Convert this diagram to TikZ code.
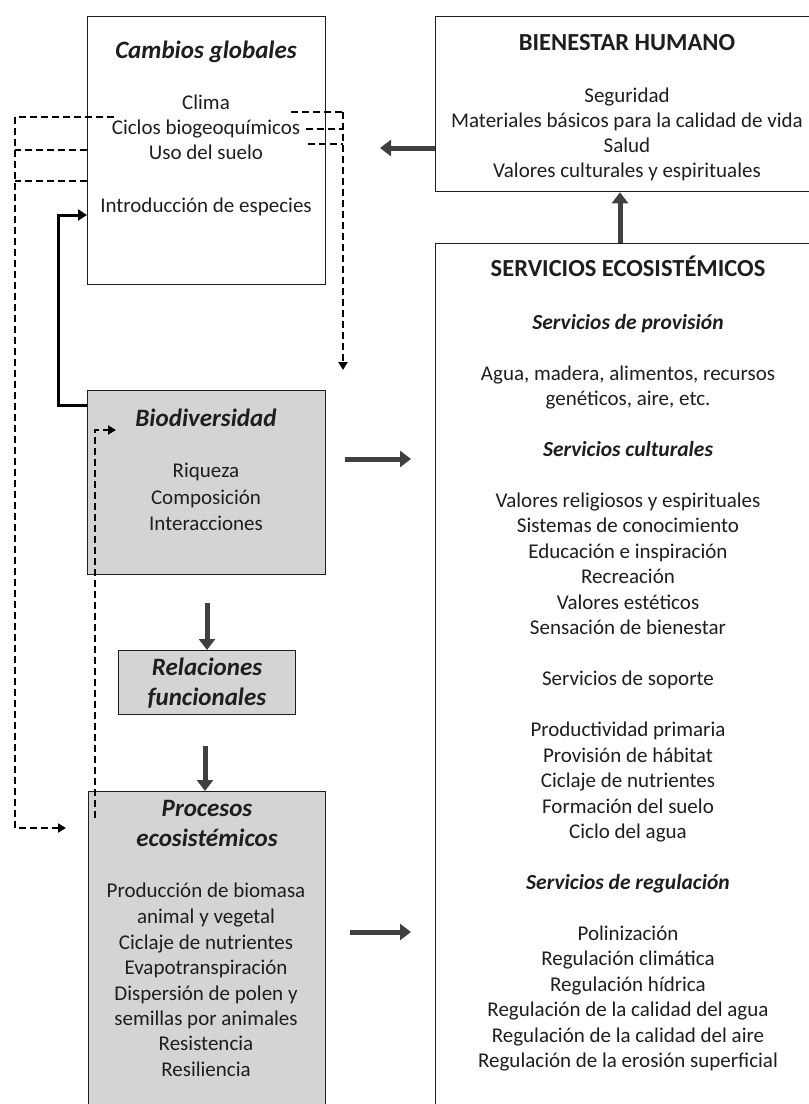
\documentclass[tikz,border=0pt]{standalone}
\usepackage{fontspec}
\setmainfont{Carlito}
\usetikzlibrary{arrows.meta}
\definecolor{txt}{HTML}{1E1E1E}
\definecolor{arr}{HTML}{404040}
\definecolor{fillg}{HTML}{D4D4D4}
\begin{document}
\begin{tikzpicture}[x=1pt,y=-1pt,
  box/.style={draw=txt,line width=1.3pt,anchor=north west,inner sep=0pt},
  gbox/.style={box,fill=fillg},
  ln/.style={anchor=base,inner sep=0pt,text=txt,font=\fontsize{21}{25}\selectfont},
  ttl/.style={anchor=base,inner sep=0pt,text=txt,font=\fontsize{25}{30}\selectfont\bfseries\itshape},
  sttl/.style={anchor=base,inner sep=0pt,text=txt,font=\fontsize{21.5}{25}\selectfont\bfseries\itshape},
  caps/.style={anchor=base,inner sep=0pt,text=txt,font=\fontsize{24.5}{28}\selectfont\bfseries},
  bigarrow/.style={draw=arr,line width=5pt,-{Triangle[length=11pt,width=16pt]}},
  dsh/.style={draw=black,line width=2pt,dash pattern=on 7pt off 4pt},
  dsharrow/.style={dsh,-{Triangle[length=8pt,width=9pt]}}
]
\useasboundingbox (0,0) rectangle (809,1104);
\fill[white] (0,0) rectangle (809,1104);
\clip (0,0) rectangle (809,1104);

% boxes
\node[box,minimum width=238pt,minimum height=268pt] (cg) at (87,16) {};
\node[box,minimum width=400pt,minimum height=175pt] (bh) at (435,16) {};
\node[box,minimum width=400pt,minimum height=900pt] (se) at (435,243) {};
\node[gbox,minimum width=238pt,minimum height=184pt] (bio) at (87,390) {};
\node[gbox,minimum width=177pt,minimum height=64pt] (rf) at (118,650) {};
\node[gbox,minimum width=237pt,minimum height=340pt] (pe) at (88,791) {};

% Cambios globales
\node[ttl] (cgt) at (206,58) {Cambios globales};
\foreach \t/\y [count=\i] in {Clima/102,Ciclos biogeoquímicos/127,Uso del suelo/152,Introducción de especies/205}
  \node[ln] (cg-\i) at (206,\y+7) {\t};

% Bienestar humano
\node[caps] (bht) at (627,50) {BIENESTAR HUMANO};
\foreach \t/\y [count=\i] in {Seguridad/95,Materiales básicos para la calidad de vida/120,Salud/145,Valores culturales y espirituales/170}
  \node[ln] (bh-\i) at (627,\y+7) {\t};

% Servicios ecosistemicos
\node[caps] (set) at (628,276) {SERVICIOS ECOSISTÉMICOS};
\foreach \t/\y [count=\i] in {{Agua, madera, alimentos, recursos}/373,{genéticos, aire, etc.}/398,
  Valores religiosos y espirituales/500,Sistemas de conocimiento/525,Educación e inspiración/551,Recreación/576,Valores estéticos/602,Sensación de bienestar/627,
  Servicios de soporte/678,
  Productividad primaria/729,Provisión de hábitat/755,Ciclaje de nutrientes/780,Formación del suelo/806,Ciclo del agua/831,
  Polinización/933,Regulación climática/958,Regulación hídrica/984,Regulación de la calidad del agua/1009,Regulación de la calidad del aire/1035,Regulación de la erosión superficial/1060}
  \node[ln] (se-\i) at (628,\y+7) {\t};
\foreach \t/\y [count=\i] in {Servicios de provisión/322,Servicios culturales/449,Servicios de regulación/882}
  \node[sttl] (ses-\i) at (628,\y+7) {\t};

% Biodiversidad
\node[ttl] (biot) at (206,426) {Biodiversidad};
\foreach \t/\y [count=\i] in {Riqueza/470,Composición/497,Interacciones/523}
  \node[ln] (bio-\i) at (206,\y+7) {\t};

% Relaciones funcionales
\node[ttl] (rft1) at (207,675) {Relaciones};
\node[ttl] (rft2) at (207,705) {funcionales};

% Procesos ecosistemicos
\node[ttl] (pet1) at (207,816) {Procesos};
\node[ttl] (pet2) at (207,846) {ecosistémicos};
\foreach \t/\y [count=\i] in {Producción de biomasa/890,animal y vegetal/916,Ciclaje de nutrientes/942,Evapotranspiración/967,Dispersión de polen y/993,semillas por animales/1018,Resistencia/1043,Resiliencia/1069}
  \node[ln] (pe-\i) at (206,\y+7) {\t};

% free connector ends
\coordinate (a1) at (380,148);
\coordinate (a3s) at (345,459); \coordinate (a3e) at (411,459);
\coordinate (a4s) at (207,603);
\coordinate (a5s) at (205,746);
\coordinate (a6s) at (350,932); \coordinate (a6e) at (411,932);

% big grey arrows
\draw[bigarrow] (bh.west |- a1) -- (a1);
\draw[bigarrow] (se.north -| 620,0) -- (bh.south -| 620,0);
\draw[bigarrow] (a3s) -- (a3e);
\draw[bigarrow] (a4s) -- (rf.north -| a4s);
\draw[bigarrow] (a5s) -- (pe.north -| a5s);
\draw[bigarrow] (a6s) -- (a6e);

% solid black feedback
\coordinate (s1) at (58,405);
\coordinate (s2) at (58,215);
\draw[line width=3pt,-{Triangle[length=9pt,width=11pt]}] (bio.west |- s1) -- (s1) -- (s2) -- (cg.west |- s2);

% dashed right
\coordinate (r1) at (291,112); \coordinate (r2) at (306,129); \coordinate (r3) at (308,144);
\coordinate (rv) at (343,112); \coordinate (re) at (343,370);
\draw[dsh] (r1) -- (rv);
\draw[dsh] (r2) -- (rv |- r2);
\draw[dsh] (r3) -- (rv |- r3);
\draw[dsharrow] (rv) -- (re);

% dashed left
\coordinate (l1) at (114,117); \coordinate (lv) at (15,117);
\coordinate (l2) at (87,150); \coordinate (l3) at (87,181);
\coordinate (lb) at (15,828); \coordinate (le) at (66,828);
\draw[dsh] (l1) -- (lv);
\draw[dsh] (l2) -- (lv |- l2);
\draw[dsh] (l3) -- (lv |- l3);
\draw[dsharrow] (lv) -- (lb) -- (le);

% dashed from procesos to biodiversidad
\coordinate (p1) at (95,818); \coordinate (p2) at (95,430); \coordinate (p3) at (116,430);
\draw[dsharrow] (p1) -- (p2) -- (p3);
\end{tikzpicture}
\end{document}
